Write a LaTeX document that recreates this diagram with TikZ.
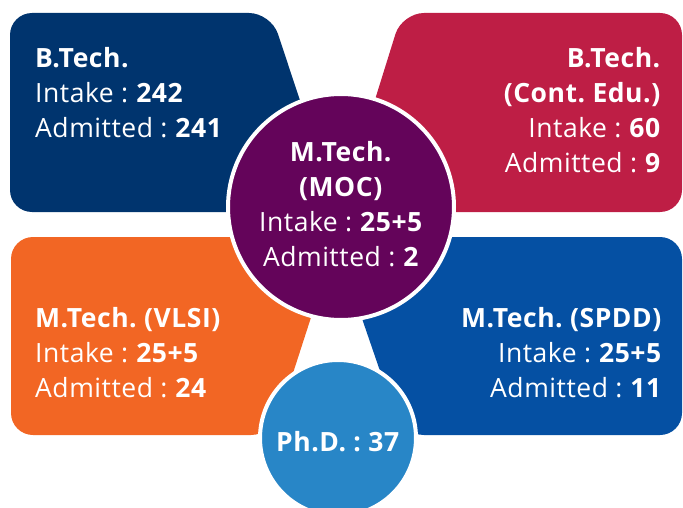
\documentclass[tikz,border=0pt]{standalone}
\usepackage{fontspec}
\setmainfont{Open Sans}[LetterSpace=2]
\frenchspacing
\definecolor{navy}{RGB}{0,52,110}
\definecolor{crimson}{RGB}{190,30,69}
\definecolor{plum}{RGB}{100,4,90}
\definecolor{tangerine}{RGB}{242,102,36}
\definecolor{royal}{RGB}{5,80,163}
\definecolor{sky}{RGB}{40,134,199}
\begin{document}
\begin{tikzpicture}[x=1pt,y=-1pt,
	petal/.style={rounded corners=22pt},
	ring/.style={circle, draw=white, line width=4pt, text=white, align=center, inner sep=0pt, font=\fontsize{26.5}{35}\selectfont},
	boxtext/.style={text=white, inner sep=0pt, font=\fontsize{26.5}{35}\selectfont}]

	\useasboundingbox (0,0) rectangle (683,508);
	\clip (0,0) rectangle (683,508);

	\coordinate (A) at (10,13);
	\coordinate (B) at (271,13);
	\coordinate (C) at (337,212);
	\coordinate (D) at (10,212);
	\coordinate (E) at (402,13);
	\coordinate (F) at (682,13);
	\coordinate (G) at (682,212);
	\coordinate (H) at (340,212);
	\coordinate (I) at (11,237);
	\coordinate (J) at (337,237);
	\coordinate (K) at (273,435);
	\coordinate (L) at (11,435);
	\coordinate (M) at (334,237);
	\coordinate (N) at (682,237);
	\coordinate (O) at (682,435);
	\coordinate (P) at (402,435);

	\fill [navy, petal] (A)--(B)--(C)--(D)--cycle;
	\fill [crimson, petal] (E)--(F)--(G)--(H)--cycle;
	\fill [tangerine, petal] (I)--(J)--(K)--(L)--cycle;
	\fill [royal, petal] (M)--(N)--(O)--(P)--cycle;

	\node [boxtext, anchor=north west, align=left] (btech) at (35,47)
		{\textbf{B.Tech.}\\Intake : \textbf{242}\\Admitted : \textbf{241}};
	\node [boxtext, anchor=north east, align=right] (btechce) at (661,47)
		{\textbf{B.Tech.}\\\textbf{(Cont. Edu.)}\\Intake : \textbf{60}\\Admitted : \textbf{9}};
	\node [boxtext, anchor=north west, align=left] (vlsi) at (35,307)
		{\textbf{M.Tech. (VLSI)}\\Intake : \textbf{25+5}\\Admitted : \textbf{24}};
	\node [boxtext, anchor=north east, align=right] (spdd) at (662,307)
		{\textbf{M.Tech. (SPDD)}\\Intake : \textbf{25+5}\\Admitted : \textbf{11}};

	\node [ring, fill=plum, minimum size=226pt] (moc) at (341,207)
		{\raisebox{2pt}{\begin{tabular}{@{}c@{}}\textbf{M.Tech.}\\\textbf{(MOC)}\\Intake : \textbf{25+5}\\Admitted : \textbf{2}\end{tabular}}};
	\node [ring, fill=sky, minimum size=156pt] (phd) at (338,438)
		{\raisebox{-13pt}[0pt][0pt]{\textbf{Ph.D. : 37}}};

\end{tikzpicture}
\end{document}
